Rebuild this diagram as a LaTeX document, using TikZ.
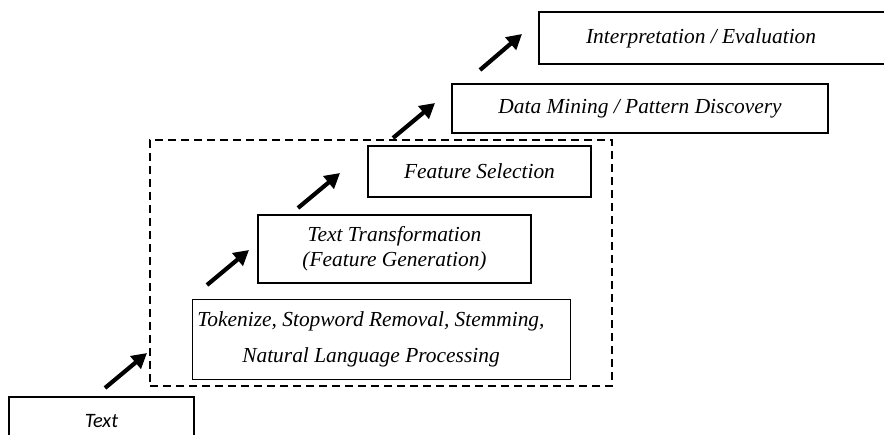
\documentclass[tikz,border=0pt]{standalone}
\usepackage{fontspec}
\setmainfont{Liberation Serif}
\newfontfamily\sanstext{Carlito}
\usetikzlibrary{arrows.meta}
\begin{document}
\begin{tikzpicture}[x=1bp,y=-1bp,
  box/.style={draw, line width=2.2bp, inner sep=0pt, align=center,
    font=\fontsize{21.5}{25}\selectfont\itshape},
  thinbox/.style={box, line width=1bp},
  groupbox/.style={draw, line width=1.6bp, dash pattern=on 8bp off 5bp, inner sep=0pt},
  steparrow/.style={line width=4.2bp, -{Triangle[length=15bp,width=16bp]}}]
\useasboundingbox (0,0) rectangle (884,435);
% dashed group
\node[groupbox, minimum width=462bp, minimum height=246bp] (grp) at (381,263) {};
% boxes
\node[box, minimum width=185bp, minimum height=48bp,
  font=\fontsize{20.5}{24}\selectfont\sanstext\itshape] (text) at (101.5,421) {Text};
\node[thinbox, minimum width=378bp, minimum height=80bp,
  font=\fontsize{21.5}{36}\selectfont\itshape] (tok) at (381,339.5)
  {\hspace*{-20bp}Tokenize, Stopword Removal, Stemming,\\\hspace*{-20bp}Natural Language Processing};
\node[box, minimum width=273bp, minimum height=68bp] (trans) at (394.5,249)
  {Text Transformation\\(Feature Generation)};
\node[box, minimum width=223bp, minimum height=51bp] (fsel) at (479.5,171.5) {Feature Selection};
\node[box, minimum width=376bp, minimum height=49bp] (dm) at (640,108.5) {Data Mining / Pattern Discovery};
\node[box, minimum width=356bp, minimum height=52bp, anchor=west] (interp) at (538,38)
  {\hspace*{-32bp}Interpretation / Evaluation};
% arrow end points
\coordinate (a1s) at (105,388); \coordinate (a1e) at (147,353);
\coordinate (a2s) at (207,285); \coordinate (a2e) at (249,250);
\coordinate (a3s) at (298,208); \coordinate (a3e) at (340,173);
\coordinate (a4s) at (393,138); \coordinate (a4e) at (435,103);
\coordinate (a5s) at (480,70);  \coordinate (a5e) at (522,34);
\draw[steparrow] (a1s) -- (a1e);
\draw[steparrow] (a2s) -- (a2e);
\draw[steparrow] (a3s) -- (a3e);
\draw[steparrow] (a4s) -- (a4e);
\draw[steparrow] (a5s) -- (a5e);
\end{tikzpicture}
\end{document}
